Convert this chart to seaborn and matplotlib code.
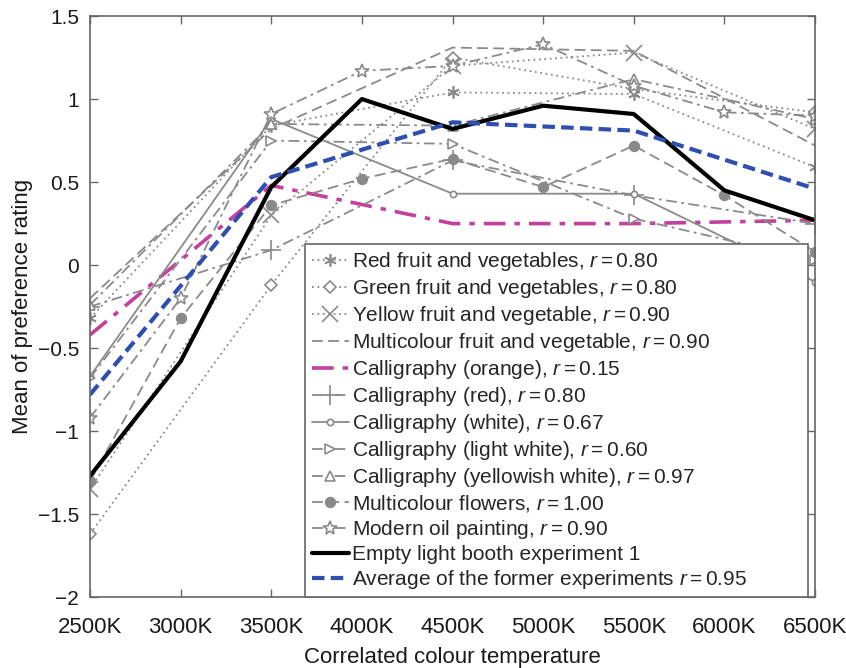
import numpy as np
import pandas as pd
import seaborn as sns
from matplotlib import pyplot as plt
from matplotlib.ticker import FuncFormatter

nan = np.nan

# colour temperatures on the x axis
CCT = [2500, 3000, 3500, 4000, 4500, 5000, 5500, 6000, 6500]
CCT_LABELS = ['2500K', '3000K', '3500K', '4000K', '4500K', '5000K', '5500K', '6000K', '6500K']
Y_TICKS = [-2, -1.5, -1, -0.5, 0, 0.5, 1, 1.5]

RED_FRUIT = [-0.32, nan, 0.84, nan, 1.04, nan, 1.03, nan, 0.59]
GREEN_FRUIT = [-1.62, nan, -0.12, nan, 1.25, nan, 1.06, nan, 0.92]
YELLOW_FRUIT = [-1.35, nan, 0.30, nan, 1.20, nan, 1.28, nan, 0.82]
MULTI_FRUIT = [-0.20, nan, 0.82, nan, 1.31, nan, 1.29, nan, 0.72]
CAL_ORANGE = [-0.42, nan, 0.48, nan, 0.25, nan, 0.25, nan, 0.27]
CAL_RED = [-0.25, nan, 0.09, nan, 0.63, nan, 0.42, nan, 0.25]
CAL_WHITE = [-0.67, nan, 0.88, nan, 0.43, nan, 0.43, nan, -0.10]
CAL_LIGHT_WHITE = [-0.68, nan, 0.75, nan, 0.73, nan, 0.28, nan, 0.03]
CAL_YELLOWISH = [-0.24, nan, 0.85, nan, 0.84, nan, 1.12, nan, 0.88]
FLOWERS = [-1.30, -0.32, 0.36, 0.52, 0.64, 0.47, 0.72, 0.42, 0.08]
OIL_PAINTING = [-0.92, -0.20, 0.91, 1.17, 1.20, 1.33, 1.08, 0.92, 0.90]
EMPTY_BOOTH = [-1.27, -0.58, 0.47, 1.00, 0.82, 0.96, 0.91, 0.45, 0.27]
AVERAGE = [-0.78, nan, 0.53, nan, 0.86, nan, 0.81, nan, 0.46]

GRAY = '#8a8a8a'
DOT = (0, (1, 2))
DASH = (0, (6, 3))
DASHDOT = (0, (6, 2.5, 1.5, 2.5))


def gray(ls, marker=None, ms=7, filled=False):
    kw = dict(color=GRAY, linestyle=ls, linewidth=1.3)
    if marker is not None:
        kw.update(marker=marker, markersize=ms, markeredgecolor=GRAY,
                  markeredgewidth=1.2,
                  markerfacecolor=GRAY if filled else 'white')
    return kw


SERIES = [
    ('Red fruit and vegetables, $r=0.80$', RED_FRUIT, gray(DOT, (6, 2, 0), 9)),
    ('Green fruit and vegetables, $r=0.80$', GREEN_FRUIT, gray(DOT, 'D', 6)),
    ('Yellow fruit and vegetable, $r=0.90$', YELLOW_FRUIT, gray(DOT, 'x', 12)),
    ('Multicolour fruit and vegetable, $r=0.90$', MULTI_FRUIT, gray(DASH)),
    ('Calligraphy (orange), $r=0.15$', CAL_ORANGE,
     dict(color='#c2409e', linestyle=DASHDOT, linewidth=2.6)),
    ('Calligraphy (red), $r=0.80$', CAL_RED, gray(DASHDOT, '+', 14)),
    ('Calligraphy (white), $r=0.67$', CAL_WHITE, gray('-', 'o', 4.5)),
    ('Calligraphy (light white), $r=0.60$', CAL_LIGHT_WHITE, gray(DASHDOT, '>', 7)),
    ('Calligraphy (yellowish white), $r=0.97$', CAL_YELLOWISH, gray(DASHDOT, '^', 7)),
    ('Multicolour flowers, $r=1.00$', FLOWERS, gray(DASH, 'o', 7, filled=True)),
    ('Modern oil painting, $r=0.90$', OIL_PAINTING, gray(DASHDOT, '*', 10)),
    ('Empty light booth experiment 1', EMPTY_BOOTH,
     dict(color='black', linestyle='-', linewidth=3)),
    ('Average of the former experiments $r=0.95$', AVERAGE,
     dict(color='#2f4fb0', linestyle=(0, (3, 1.5)), linewidth=3)),
]

sns.set_style('ticks')
plt.rcParams['font.family'] = ['Liberation Sans', 'DejaVu Sans']
plt.rcParams['mathtext.fontset'] = 'custom'
plt.rcParams['mathtext.it'] = 'Liberation Sans:italic'
plt.rcParams['mathtext.rm'] = 'Liberation Sans'

fig = plt.figure(figsize=(8.46, 6.68), dpi=100)
ax = fig.add_axes([0.1064, 0.106, 0.857, 0.870])

for label, values, kw in SERIES:
    df = pd.DataFrame({'cct': CCT, 'rating': values}).dropna()
    sns.lineplot(data=df, x='cct', y='rating', ax=ax, label=label, **kw)

ax.set_xlim(CCT[0], CCT[-1])
ax.set_ylim(-2, 1.5)
ax.set_xticks(CCT)
ax.set_xticklabels(CCT_LABELS)
ax.set_yticks(Y_TICKS)
ax.yaxis.set_major_formatter(FuncFormatter(lambda v, p: ('%g' % v).replace('-', '\u2212')))
ax.tick_params(direction='in', top=True, right=True, length=6, width=1,
               color='#666666', labelcolor='#1a1a1a')
ax.tick_params(axis='x', labelsize=16, pad=14)
ax.tick_params(axis='y', labelsize=15, pad=8)
for sp in ax.spines.values():
    sp.set_visible(True)
    sp.set_color('#666666')
    sp.set_linewidth(1.2)

ax.set_xlabel('Correlated colour temperature', fontsize=16, color='#1a1a1a', labelpad=7)
ax.set_ylabel('Mean of preference rating', fontsize=16, color='#1a1a1a', labelpad=3)

leg = ax.legend(loc='lower left', bbox_to_anchor=(0.297, 0.0, 0.693, 0.6), mode='expand',
                fontsize=15, handlelength=1.8, handletextpad=0.15, labelspacing=0.19,
                borderpad=0.3, borderaxespad=0, fancybox=False, framealpha=1,
                edgecolor='#666666')
leg.get_frame().set_linewidth(1.2)

fig.savefig('out.png', dpi=100)
